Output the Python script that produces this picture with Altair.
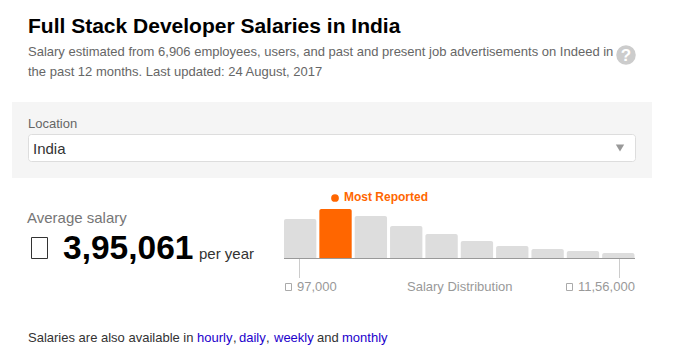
import altair as alt
import pandas as pd

FONT = "Liberation Sans"

bins = ["b1", "b2", "b3", "b4", "b5", "b6", "b7", "b8", "b9", "b10"]
heights = [39, 49, 42, 32, 24, 17, 12, 9, 7, 5]
most_reported = [False, True, False, False, False, False, False, False, False, False]

title = "Full Stack Developer Salaries in India"
subtitle_1 = "Salary estimated from 6,906 employees, users, and past and present job advertisements on Indeed in"
subtitle_2 = "the past 12 months. Last updated: 24 August, 2017"

OX, OY = 8, 8  # page margin


def txt(s, x, y, size, color, weight="normal", align="left"):
    return alt.Chart(pd.DataFrame({"t": [s]})).mark_text(
        font=FONT, fontSize=size, fontWeight=weight, color=color, align=align, baseline="alphabetic"
    ).encode(text="t:N", x=alt.value(x - OX), y=alt.value(y - OY))


def box(x, x2, y, y2, fill, stroke=None, radius=0):
    kw = dict(fill=fill, cornerRadius=radius)
    if stroke:
        kw.update(stroke=stroke, strokeWidth=1)
    return alt.Chart(pd.DataFrame({"a": [0]})).mark_rect(**kw).encode(
        x=alt.value(x - OX), x2=alt.value(x2 - OX), y=alt.value(y - OY), y2=alt.value(y2 - OY)
    )


def line(x, x2, y, y2, color, w=1):
    return alt.Chart(pd.DataFrame({"a": [0]})).mark_rule(color=color, strokeWidth=w).encode(
        x=alt.value(x - OX), x2=alt.value(x2 - OX), y=alt.value(y - OY), y2=alt.value(y2 - OY)
    )


def dot(x, y, size, color, shape="circle"):
    return alt.Chart(pd.DataFrame({"a": [0]})).mark_point(
        filled=True, shape=shape, size=size, color=color, opacity=1
    ).encode(x=alt.value(x - OX), y=alt.value(y - OY))


bars = alt.Chart(pd.DataFrame({"bin": bins, "h": heights, "top": most_reported})).mark_bar(
    cornerRadiusTopLeft=2, cornerRadiusTopRight=2
).encode(
    x=alt.X("bin:N", sort=bins, axis=None,
            scale=alt.Scale(domain=bins, range=[284 - OX, 634.5 - OX], paddingInner=0.085, paddingOuter=0)),
    y=alt.Y("h:Q", axis=None, scale=alt.Scale(domain=[0, 49], range=[258 - OY, 209 - OY], nice=False)),
    y2=alt.datum(0),
    color=alt.Color("top:N", legend=None,
                    scale=alt.Scale(domain=[False, True], range=["#dddddd", "#ff6600"])),
)

layers = [
    txt(title, 28, 33, 21, "#000000", "bold"),
    txt(subtitle_1, 28, 56, 13, "#666666"),
    txt(subtitle_2, 28, 76, 13, "#666666"),
    dot(626, 55, 380, "#cccccc"),
    txt("?", 626, 61, 17, "#ffffff", "bold", "center"),
    box(12, 652, 102, 178, "#f5f5f5"),
    txt("Location", 28, 128, 13, "#666666"),
    box(28.5, 635.5, 134.5, 161.5, "#ffffff", "#dddddd", 3),
    txt("India", 33, 154, 15, "#333333"),
    dot(620, 148, 70, "#999999", "triangle-down"),
    txt("Average salary", 27, 223, 15, "#767676"),
    box(31.5, 47.5, 237.5, 258.5, "transparent", "#333333"),
    txt("3,95,061", 63, 259, 33.5, "#000000", "bold"),
    txt("per year", 199, 259, 15, "#333333"),
    dot(335, 198, 60, "#ff6600"),
    txt("Most Reported", 344, 201, 12, "#ff6600", "bold"),
    bars,
    line(284, 635, 258.5, 258.5, "#999999"),
    line(299.5, 299.5, 259, 278, "#cccccc"),
    line(619.5, 619.5, 259, 278, "#cccccc"),
    box(285.5, 291.5, 283.5, 290.5, "transparent", "#aaaaaa"),
    txt("97,000", 297, 291, 13, "#999999"),
    txt("Salary Distribution", 407, 291, 13, "#999999"),
    box(566.5, 572.5, 283.5, 290.5, "transparent", "#aaaaaa"),
    txt("11,56,000", 578, 291, 13, "#999999"),
    txt("Salaries are also available in", 28, 342, 13, "#333333"),
    txt("hourly", 197, 342, 13, "#2200cc"),
    txt(",", 233, 342, 13, "#333333"),
    txt("daily", 239, 342, 13, "#2200cc"),
    txt(",", 266, 342, 13, "#333333"),
    txt("weekly", 274, 342, 13, "#2200cc"),
    txt("and", 317, 342, 13, "#333333"),
    txt("monthly", 342, 342, 13, "#2200cc"),
]

chart = alt.layer(*layers).resolve_scale(x="shared", y="shared").properties(
    width=650, height=340, padding=0, autosize=alt.AutoSizeParams(type="none"),
    background="#ffffff",
).configure_view(stroke=None)

chart.save("out.html", embed_options={"renderer": "svg", "actions": False})
